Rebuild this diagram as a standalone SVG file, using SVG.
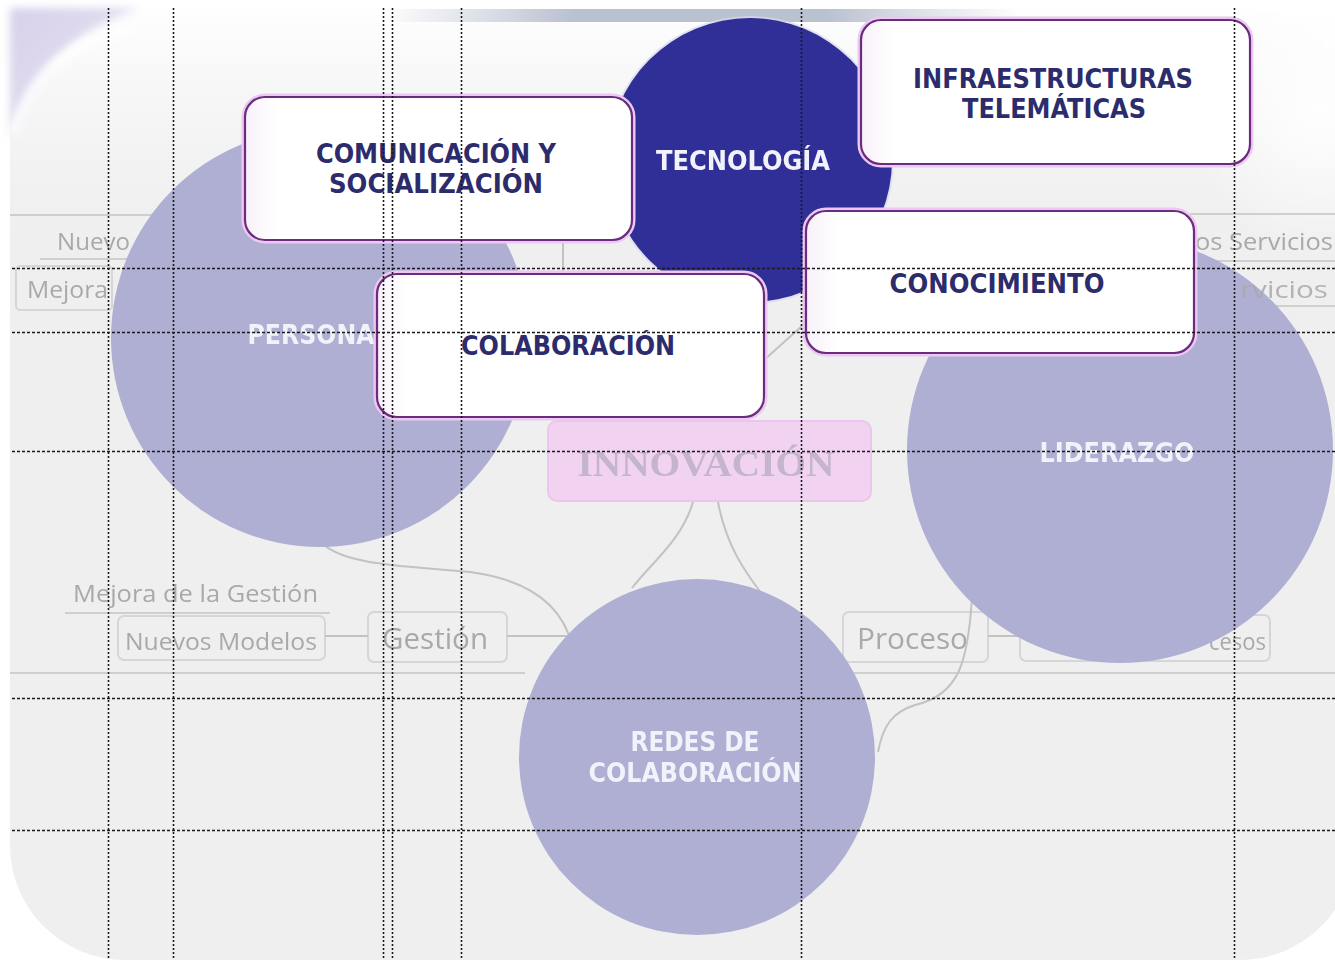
<svg xmlns="http://www.w3.org/2000/svg" width="1335" height="960" viewBox="0 0 1335 960">
<defs>
<linearGradient id="topfade" x1="0" y1="0" x2="0" y2="1">
<stop offset="0" stop-color="#ffffff" stop-opacity="0.95"/>
<stop offset="0.5" stop-color="#f6f7f8" stop-opacity="0.6"/>
<stop offset="1" stop-color="#efefef" stop-opacity="0"/>
</linearGradient>
<radialGradient id="tl" cx="0.5" cy="0.5" r="0.5">
<stop offset="0" stop-color="#ffffff" stop-opacity="0.9"/>
<stop offset="1" stop-color="#ffffff" stop-opacity="0"/>
</radialGradient>
<linearGradient id="lavc" x1="0" y1="0" x2="1" y2="1">
<stop offset="0" stop-color="#d6d0ea"/>
<stop offset="1" stop-color="#eceaf4"/>
</linearGradient>
<linearGradient id="streak" x1="0" y1="0" x2="1" y2="0">
<stop offset="0" stop-color="#b4bccb" stop-opacity="0"/>
<stop offset="0.3" stop-color="#a9b2c4" stop-opacity="0.8"/>
<stop offset="0.7" stop-color="#a9b2c4" stop-opacity="0.8"/>
<stop offset="1" stop-color="#b4bccb" stop-opacity="0"/>
</linearGradient>
<filter id="blur" x="-5%" y="-20%" width="110%" height="140%"><feGaussianBlur stdDeviation="0.7"/></filter>
<filter id="soft" x="-5%" y="-20%" width="110%" height="140%"><feGaussianBlur stdDeviation="0.4"/></filter>
<filter id="wide" x="-20%" y="-20%" width="140%" height="140%"><feGaussianBlur stdDeviation="4"/></filter>
<linearGradient id="boxfill" x1="0" y1="0" x2="1" y2="0">
<stop offset="0" stop-color="#f8f0fa"/>
<stop offset="0.08" stop-color="#ffffff"/>
<stop offset="1" stop-color="#ffffff"/>
</linearGradient>
</defs>
<style>
.bgtxt{font-family:"Open Sans","Liberation Sans",sans-serif;fill:#a9a9a9;filter:url(#blur)}
.bgline{fill:none;stroke:#cfcfcf;stroke-width:2}
.bgbox{fill:none;stroke:#d6d6d6;stroke-width:2}
.conn{fill:none;stroke:#c2c2c2;stroke-width:2}
.halo{fill:none;stroke:#ecc8f2;stroke-width:7}
.box{fill:url(#boxfill);stroke:#6a2d7e;stroke-width:2.2}
.btxt{font-family:"DejaVu Sans",sans-serif;font-stretch:condensed;font-weight:bold;font-size:27px;fill:#2c2c6c;text-anchor:middle}
.ctxt{font-family:"DejaVu Sans",sans-serif;font-stretch:condensed;font-weight:bold;font-size:27px;fill:#f2f2fb;text-anchor:middle;filter:url(#soft)}
.circ{fill:#afafd4}
.grid{fill:none;stroke:#1a1a1a;stroke-width:1.6}
.gv{stroke-dasharray:2 2}
.gh{stroke-dasharray:3 2}
</style>
<!-- background panel -->
<rect x="0" y="0" width="1335" height="960" fill="#ffffff"/>
<rect x="10" y="8" width="1345" height="952" rx="115" ry="115" fill="#efefef"/>
<rect x="10" y="8" width="1335" height="260" fill="url(#topfade)"/>
<path d="M 10 8 L 140 8 Q 40 40, 10 140 Z" fill="url(#lavc)" filter="url(#wide)"/>
<path d="M 12 135 Q 40 45, 130 30" fill="none" stroke="#ffffff" stroke-width="8" filter="url(#wide)"/>
<ellipse cx="1320" cy="110" rx="130" ry="150" fill="url(#tl)"/>
<rect x="380" y="9" width="640" height="13" fill="url(#streak)"/>

<!-- faint background mind map -->
<g id="background-map">
<line class="bgline" x1="10" y1="215" x2="245" y2="215"/>
<line class="bgline" x1="40" y1="259" x2="135" y2="259"/>
<rect class="bgbox" x="16" y="266" width="96" height="44" rx="4"/>
<text class="bgtxt" x="57" y="250" font-size="23" textLength="73" lengthAdjust="spacingAndGlyphs">Nuevo</text>
<text class="bgtxt" x="27" y="298" font-size="23" textLength="81" lengthAdjust="spacingAndGlyphs">Mejora</text>
<line class="bgline" x1="1190" y1="214" x2="1335" y2="214"/>
<line class="bgline" x1="1185" y1="261" x2="1335" y2="261"/>
<line class="bgline" x1="1200" y1="306" x2="1335" y2="306"/>
<text class="bgtxt" x="1195" y="250" font-size="23" textLength="138" lengthAdjust="spacingAndGlyphs">os Servicios</text>
<text class="bgtxt" x="73" y="602" font-size="24" textLength="245" lengthAdjust="spacingAndGlyphs">Mejora de la Gestión</text>
<line class="bgline" x1="65" y1="613" x2="330" y2="613"/>
<rect class="bgbox" x="118" y="616" width="207" height="44" rx="6"/>
<text class="bgtxt" x="125" y="650" font-size="23" textLength="192" lengthAdjust="spacingAndGlyphs">Nuevos Modelos</text>
<rect class="bgbox" x="368" y="612" width="139" height="50" rx="6"/>
<text class="bgtxt" x="382" y="649" font-size="30" textLength="106" lengthAdjust="spacingAndGlyphs">Gestión</text>
<line class="bgline" x1="10" y1="673" x2="525" y2="673"/>
<rect class="bgbox" x="843" y="612" width="145" height="50" rx="6"/>
<text class="bgtxt" x="857" y="649" font-size="30" textLength="111" lengthAdjust="spacingAndGlyphs">Proceso</text>
<rect class="bgbox" x="1020" y="615" width="250" height="46" rx="6"/>
<text class="bgtxt" x="1209" y="650" font-size="23" textLength="57" lengthAdjust="spacingAndGlyphs">cesos</text>
<line class="bgline" x1="850" y1="673" x2="1335" y2="673"/>
</g>

<!-- connectors -->
<g id="connectors">
<path class="conn" d="M 325 636 L 368 636"/>
<path class="conn" d="M 507 636 L 572 636"/>
<path class="conn" d="M 988 636 L 1020 636"/>
<path class="conn" d="M 322 543 C 345 566, 410 566, 470 572 C 530 580, 562 605, 572 645"/>
<path class="conn" d="M 693 502 C 682 540, 652 562, 632 588"/>
<path class="conn" d="M 718 502 C 726 545, 745 572, 762 594"/>
<path class="conn" d="M 972 598 C 968 660, 960 695, 915 705 C 893 712, 883 725, 878 752"/>
<path class="conn" d="M 764 360 L 802 326"/>
<path class="conn" d="M 563 238 L 563 276"/>
</g>

<!-- circles -->
<g id="node-personas">
<circle class="circ" cx="320" cy="338" r="209"/>
<text class="ctxt" x="311" y="344" textLength="127" lengthAdjust="spacingAndGlyphs">PERSONA</text>
</g>
<g id="node-liderazgo">
<circle class="circ" cx="1120" cy="450" r="213"/>
<text class="ctxt" x="1117" y="462" textLength="155" lengthAdjust="spacingAndGlyphs">LIDERAZGO</text>
</g>
<text class="bgtxt" x="1240" y="298" font-size="23" textLength="88" lengthAdjust="spacingAndGlyphs" opacity="0.85">rvicios</text>
<g id="node-redes">
<circle class="circ" cx="697" cy="757" r="178"/>
<text class="ctxt" x="695" y="751" textLength="129" lengthAdjust="spacingAndGlyphs">REDES DE</text>
<text class="ctxt" x="695" y="782" textLength="213" lengthAdjust="spacingAndGlyphs">COLABORACIÓN</text>
</g>
<g id="node-tecnologia">
<circle cx="750" cy="160" r="144" fill="#d8d8ee" opacity="0.7"/>
<circle cx="750" cy="160" r="142" fill="#2f2f97"/>
<text class="ctxt" x="743" y="170" textLength="174" lengthAdjust="spacingAndGlyphs">TECNOLOGÍA</text>
</g>

<!-- innovacion -->
<g id="node-innovacion">
<rect x="548" y="421" width="323" height="80" rx="9" fill="#f1d3f1" stroke="#ebc6ec" stroke-width="2"/>
<text x="706" y="476" font-family="Liberation Serif, serif" font-weight="bold" font-size="36" fill="#c5b5cc" text-anchor="middle" textLength="257" lengthAdjust="spacingAndGlyphs" filter="url(#soft)">INNOVACIÓN</text>
</g>

<!-- white boxes -->
<g id="node-comunicacion">
<rect class="halo" x="245" y="97" width="387" height="143" rx="20"/>
<rect class="box" x="245" y="97" width="387" height="143" rx="20"/>
<text class="btxt" x="436" y="163" textLength="240" lengthAdjust="spacingAndGlyphs">COMUNICACIÓN Y</text>
<text class="btxt" x="436" y="193" textLength="214" lengthAdjust="spacingAndGlyphs">SOCIALIZACIÓN</text>
</g>
<g id="node-infraestructuras">
<rect class="halo" x="861" y="20" width="389" height="144" rx="20"/>
<rect class="box" x="861" y="20" width="389" height="144" rx="20"/>
<text class="btxt" x="1053" y="88" textLength="280" lengthAdjust="spacingAndGlyphs">INFRAESTRUCTURAS</text>
<text class="btxt" x="1054" y="118" textLength="184" lengthAdjust="spacingAndGlyphs">TELEMÁTICAS</text>
</g>
<g id="node-conocimiento">
<rect class="halo" x="806" y="211" width="388" height="142" rx="20"/>
<rect class="box" x="806" y="211" width="388" height="142" rx="20"/>
<text class="btxt" x="997" y="293" textLength="215" lengthAdjust="spacingAndGlyphs">CONOCIMIENTO</text>
</g>
<g id="node-colaboracion">
<rect class="halo" x="377" y="274" width="387" height="143" rx="20"/>
<rect class="box" x="377" y="274" width="387" height="143" rx="20"/>
<text class="btxt" x="568" y="355" textLength="214" lengthAdjust="spacingAndGlyphs">COLABORACIÓN</text>
</g>

<!-- dotted guide lines -->
<g id="guides">
<line class="grid gv" x1="108.5" y1="8" x2="108.5" y2="960"/>
<line class="grid gv" x1="173.5" y1="8" x2="173.5" y2="960"/>
<line class="grid gv" x1="383.5" y1="8" x2="383.5" y2="960"/>
<line class="grid gv" x1="392.5" y1="8" x2="392.5" y2="960"/>
<line class="grid gv" x1="461.5" y1="8" x2="461.5" y2="960"/>
<line class="grid gv" x1="801.5" y1="8" x2="801.5" y2="960"/>
<line class="grid gv" x1="1234.5" y1="8" x2="1234.5" y2="960"/>
<line class="grid gh" x1="12" y1="268.5" x2="1335" y2="268.5"/>
<line class="grid gh" x1="12" y1="332.5" x2="1335" y2="332.5"/>
<line class="grid gh" x1="12" y1="451.5" x2="1335" y2="451.5"/>
<line class="grid gh" x1="12" y1="698.5" x2="1335" y2="698.5"/>
<line class="grid gh" x1="12" y1="830.5" x2="1335" y2="830.5"/>
</g>
</svg>
